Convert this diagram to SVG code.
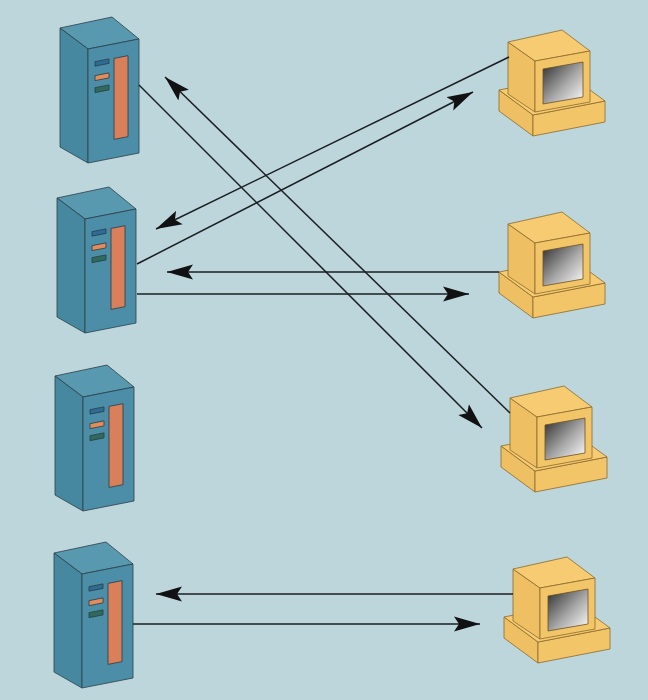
<svg xmlns="http://www.w3.org/2000/svg" width="648" height="700" viewBox="0 0 648 700">
  <style>
    .edge { stroke: #2c3f48; stroke-width: 0.8; stroke-linejoin: round; }
    .srv-top { fill: #5899b0; }
    .srv-side { fill: #4788a1; }
    .srv-front { fill: #4c8ea7; }
    .pc-edge { stroke: #8c6a2c; stroke-width: 0.8; stroke-linejoin: round; }
    .pc-top { fill: #f6cb72; }
    .pc-side { fill: #efc063; }
    .pc-front { fill: #f3c569; }
    .link { stroke: #1b1e20; stroke-width: 1.5; fill: none; marker-end: url(#arrow); }
  </style>
  <defs>
    <marker id="arrow" viewBox="0 0 26 16" refX="26" refY="8" markerWidth="26" markerHeight="16" markerUnits="userSpaceOnUse" orient="auto">
      <path d="M26,8 L0,0.5 L5,8 L0,15.5 Z" fill="#111"/>
    </marker>
    <linearGradient id="screen" x1="0" y1="0" x2="1" y2="1">
      <stop offset="0" stop-color="#2b2b2b"/>
      <stop offset="0.55" stop-color="#a9a9a9"/>
      <stop offset="1" stop-color="#ffffff"/>
    </linearGradient>
    <!-- tower server, origin at the front-top-left corner -->
    <g id="server-shape">
      <polygon class="srv-top edge" points="0,0 -28,-21 24,-32 51,-10"/>
      <polygon class="srv-side edge" points="-28,-21 0,0 0,114 -28,98"/>
      <polygon class="srv-front edge" points="0,0 51,-10 51,104 0,114"/>
      <g transform="skewY(-11.1)">
        <rect x="7" y="14" width="14" height="4.5" fill="#2d6c96" class="edge"/>
        <rect x="7" y="28" width="14" height="5" fill="#e48c5c" class="edge"/>
        <rect x="7" y="40" width="14" height="5" fill="#2e6b5d" class="edge"/>
        <rect x="26" y="14.5" width="14" height="81" fill="#d9805b" class="edge"/>
      </g>
    </g>
    <!-- desktop computer, origin at the monitor's front-top-left corner -->
    <g id="pc-shape">
      <polygon class="pc-side pc-edge" points="-36,29 -2,54 -2,75 -36,50"/>
      <polygon class="pc-front pc-edge" points="-2,54 70,40 70,61 -2,75"/>
      <polygon class="pc-top pc-edge" points="-36,29 -2,54 70,40 36,15"/>
      <polygon class="pc-side pc-edge" points="-27,-19 0,0 0,51 -27,33"/>
      <polygon class="pc-top pc-edge" points="0,0 -27,-19 27,-31 55,-10"/>
      <polygon class="pc-front pc-edge" points="0,0 55,-10 55,41 0,51"/>
      <polygon points="8,8 48,1 48,36 8,43" fill="url(#screen)" stroke="#6b5020" stroke-width="0.8"/>
    </g>
  </defs>

  <rect x="0" y="0" width="648" height="700" fill="#bdd6dc"/>

  <g id="server-1"><use href="#server-shape" transform="translate(88,49)"/></g>
  <g id="server-2"><use href="#server-shape" transform="translate(85,219)"/></g>
  <g id="server-3"><use href="#server-shape" transform="translate(83,397)"/></g>
  <g id="server-4"><use href="#server-shape" transform="translate(82,574)"/></g>

  <g id="pc-1"><use href="#pc-shape" transform="translate(535,61)"/></g>
  <g id="pc-2"><use href="#pc-shape" transform="translate(535,243)"/></g>
  <g id="pc-3"><use href="#pc-shape" transform="translate(537,417)"/></g>
  <g id="pc-4"><use href="#pc-shape" transform="translate(540,588)"/></g>

  <g id="connectors">
    <line class="link" x1="139" y1="85" x2="482" y2="428"/>
    <line class="link" x1="510" y1="413" x2="165" y2="77"/>
    <line class="link" x1="509" y1="57" x2="156" y2="229"/>
    <line class="link" x1="137" y1="264" x2="473" y2="92"/>
    <line class="link" x1="499" y1="272" x2="167" y2="272"/>
    <line class="link" x1="137" y1="294" x2="469" y2="294"/>
    <line class="link" x1="513" y1="594" x2="156" y2="594"/>
    <line class="link" x1="133" y1="624" x2="480" y2="624"/>
  </g>
</svg>
